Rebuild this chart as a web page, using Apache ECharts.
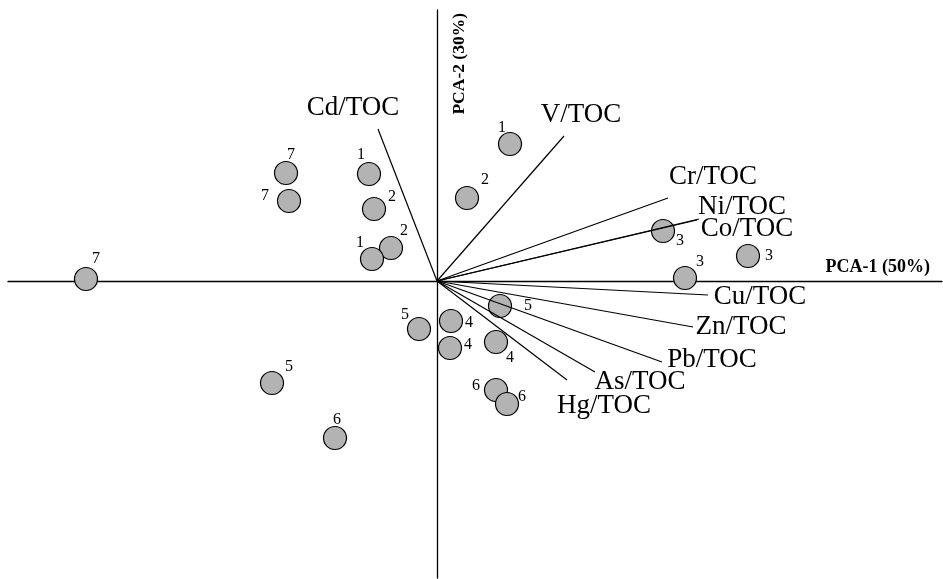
<!DOCTYPE html>
<html>
<head>
<meta charset="utf-8">
<script src="https://cdn.jsdelivr.net/npm/echarts@6/dist/echarts.min.js"></script>
<style>
html,body{margin:0;padding:0;background:#fff;}
#c{width:943px;height:579px;}
</style>
</head>
<body>
<div id="c"></div>
<script>
// ---- data: sample scores ----
const sampleGroups = [7, 7, 1, 2, 2, 1, 7, 5, 5, 6, 1, 2, 3, 3, 3, 5, 4, 4, 4, 6, 6];
const scorePC1 = [-1.51, -1.48, -0.68, -0.63, -0.46, -0.65, -3.51, -0.18, -1.65, -1.02, 0.73, 0.30, 2.26, 3.11, 2.48, 0.63, 0.14, 0.13, 0.59, 0.59, 0.70];
const scorePC2 = [1.08, 0.80, 1.07, 0.72, 0.33, 0.22, 0.02, -0.48, -1.02, -1.57, 1.37, 0.83, 0.50, 0.25, 0.03, -0.25, -0.40, -0.67, -0.61, -1.09, -1.23];

// ---- data: variable loadings ----
const varNames = ['Cd/TOC', 'V/TOC', 'Cr/TOC', 'Ni/TOC', 'Co/TOC', 'Cu/TOC', 'Zn/TOC', 'Pb/TOC', 'As/TOC', 'Hg/TOC'];
const loadPC1 = [-0.59, 1.27, 2.31, 2.62, 2.60, 2.71, 2.56, 2.25, 1.58, 1.30];
const loadPC2 = [1.52, 1.45, 0.83, 0.62, 0.61, -0.14, -0.46, -0.81, -0.91, -0.99];

const axisTitles = ['PCA-1 (50%)', 'PCA-2 (30%)'];

// ---- layout (label placement, pixels) ----
const sampleLabelOffset = [[5,-18],[-24,-5],[-8,-19],[18,-12],[13,-17],[-12,-16],[10,-20],[-14,-14],[17,-16],[2,-18],[-8,-16],[18,-18],[17,10],[21,0],[15,-16],[28,0],[18,2],[18,-3],[14,16],[-20,-4],[15,-7]];
const varLabelOffset = [[-25,-21],[17,-21],[45,-21],[43,-12],[50,9],[52,2],[48,0],[50,-2],[45,10],[37,26]];

const FONT = 'Liberation Serif';

const chart = echarts.init(document.getElementById('c'), null, {renderer: 'canvas'});

const series = [];

// sample points
series.push({
  type: 'scatter',
  z: 2,
  symbolSize: 23,
  itemStyle: {color: '#b3b3b3', borderColor: '#000', borderWidth: 1.2, opacity: 1},
  data: sampleGroups.map((g, i) => ({
    value: [scorePC1[i], scorePC2[i]],
    name: String(g),
    label: {
      show: true,
      position: 'inside',
      offset: sampleLabelOffset[i],
      formatter: String(g),
      fontFamily: FONT,
      fontSize: 16,
      color: '#000',
      textBorderWidth: 0,
      align: 'center',
      verticalAlign: 'middle'
    }
  })),
  silent: true
});

// loading vectors
varNames.forEach((n, i) => {
  series.push({
    type: 'line',
    z: 4,
    symbol: 'none',
    silent: true,
    lineStyle: {color: '#000', width: 1.2},
    data: [[0, 0], [loadPC1[i], loadPC2[i]]]
  });
});

// loading labels
series.push({
  type: 'scatter',
  z: 5,
  symbolSize: 1,
  itemStyle: {color: 'rgba(0,0,0,0)'},
  silent: true,
  data: varNames.map((n, i) => ({
    value: [loadPC1[i], loadPC2[i]],
    label: {
      show: true,
      position: 'inside',
      offset: varLabelOffset[i],
      formatter: n,
      fontFamily: FONT,
      fontSize: 27,
      color: '#000',
      opacity: 1,
      textBorderWidth: 0,
      align: 'center',
      verticalAlign: 'middle'
    }
  }))
});

chart.setOption({
  animation: false,
  backgroundColor: '#fff',
  grid: {left: 8, right: 1, top: 10, bottom: 1, containLabel: false},
  xAxis: {
    type: 'value',
    min: -4.29, max: 5.05,
    axisLine: {show: true, onZero: true, lineStyle: {color: '#000', width: 1.3}},
    axisTick: {show: false},
    axisLabel: {show: false},
    splitLine: {show: false},
    name: axisTitles[0],
    nameLocation: 'end',
    nameGap: -12,
    nameTextStyle: {fontFamily: FONT, fontWeight: 'bold', fontSize: 18, color: '#000', align: 'right', verticalAlign: 'bottom', padding: [0, 0, 5, 0]}
  },
  yAxis: {
    type: 'value',
    min: -2.97, max: 2.71,
    axisLine: {show: true, onZero: true, lineStyle: {color: '#000', width: 1.3}},
    axisTick: {show: false},
    axisLabel: {show: false},
    splitLine: {show: false},
    name: axisTitles[1],
    nameLocation: 'end',
    nameRotate: 90,
    nameGap: -3,
    nameTextStyle: {fontFamily: FONT, fontWeight: 'bold', fontSize: 17.5, color: '#000', align: 'right', verticalAlign: 'top', padding: [13, 0, 0, 0]}
  },
  series: series
});
</script>
</body>
</html>
